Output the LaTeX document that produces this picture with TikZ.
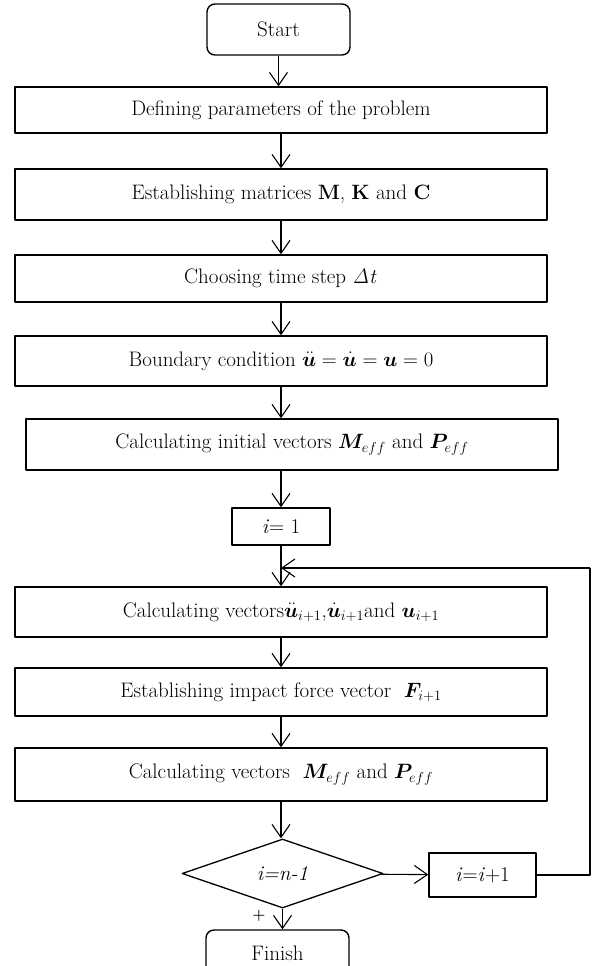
\documentclass[tikz,border=0pt]{standalone}
\usepackage{amsmath,bm}
\usetikzlibrary{arrows.meta,shapes.geometric}
\begin{document}
\begin{tikzpicture}[x=1pt,y=-1pt,>={Straight Barb[length=13pt,width=18pt]}, font=\fontsize{21}{24}\selectfont, line join=round,
	box/.style={draw,line width=1.4pt,inner sep=0pt,minimum width=532pt},
	term/.style={box,rounded corners=8pt,minimum width=143pt},
	test/.style={draw,diamond,line width=1.3pt,inner sep=0pt,minimum width=201pt,minimum height=69pt},
	flow/.style={->,line width=1.1pt}]
	\useasboundingbox (0,0) rectangle (592,966);
	\clip (0,0) rectangle (592,966);
	% blocks
	\node[term,minimum height=51pt] (start) at (278.5,29.5) {Start};
	\node[box,minimum height=46pt] (def) at (281,110) {Defining parameters of the problem};
	\node[box,minimum height=51pt] (mat) at (281,194.5) {Establishing matrices $\mathbf{M}$, $\mathbf{K}$ and $\mathbf{C}$};
	\node[box,minimum height=47pt] (tstep) at (281,278.5) {Choosing time step $\mathit{\Delta t}$};
	\node[box,minimum height=50pt] (bound) at (281,361) {Boundary condition $\ddot{\bm{u}}=\dot{\bm{u}}=\bm{u}=0$};
	\node[box,minimum height=51pt] (init) at (292,444.5) {Calculating initial vectors $\bm{M}_{eff}$ and $\bm{P}_{eff}$};
	\node[box,minimum width=98pt,minimum height=37pt] (ione) at (281,526.5) {\textit{i}= 1};
	\node[box,minimum height=50pt] (vec) at (281,612) {Calculating vectors$\ddot{\bm{u}}_{i+1}$,$\dot{\bm{u}}_{i+1}$and $\bm{u}_{i+1}$};
	\node[box,minimum height=48pt] (force) at (281,692) {Establishing impact force vector\ \ $\bm{F}_{i+1}$};
	\node[box,minimum height=53pt] (upd) at (281,774.5) {Calculating vectors\ \ $\bm{M}_{eff}$ and $\bm{P}_{eff}$};
	\node[test] (cond) at (282.5,873.5) {\textit{i=n-1}};
	\node[box,minimum width=107pt,minimum height=44pt] (inc) at (482.5,875) {\textit{i}=\textit{i}+1};
	\node[term,minimum height=46pt] (fin) at (277.5,953) {Finish};
	\node[font=\fontsize{15}{17}\selectfont\bfseries] (plus) at (259,916) {+};
	\coordinate (back) at (590,568);
	% arrows
	\draw[flow] (start) -- (start |- def.north);
	\draw[flow] (def) -- (mat);
	\draw[flow] (mat) -- (tstep);
	\draw[flow] (tstep) -- (bound);
	\draw[flow] (bound) -- (bound |- init.north);
	\draw[flow] (init.south -| ione) -- (ione);
	\draw[flow] (ione) -- (vec);
	\draw[flow] (vec) -- (force);
	\draw[flow] (force) -- (upd);
	\draw[flow] (upd) -- (upd |- cond.north);
	\draw[flow] (cond) -- (inc);
	\draw[flow] (cond) -- (cond |- fin.north);
	\draw[line width=1.1pt] (inc.east) -- (inc.east -| back) -- (back);
	\draw[flow] (back) -- (back -| ione);
\end{tikzpicture}
\end{document}
